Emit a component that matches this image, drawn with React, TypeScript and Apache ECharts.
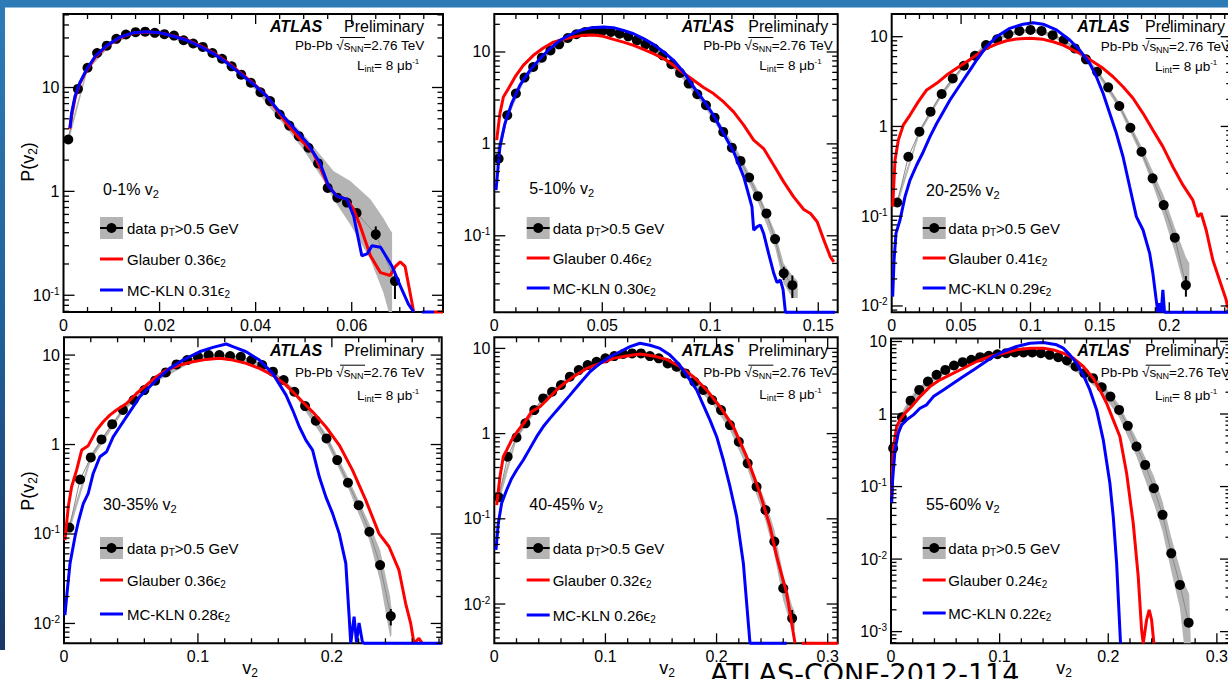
import React, { useEffect, useRef } from 'react';
import * as echarts from 'echarts';

const FONT = '"Liberation Sans", Arial, Helvetica, sans-serif';
const GRAY = '#b4b4b4';
const RED = '#ff0000';
const BLUE = '#0000ff';

// ---------- labels ----------
const CENTRALITY = ['0-1%', '5-10%', '20-25%', '30-35%', '40-45%', '55-60%'];
const GLAUBER_COEF = ['0.36', '0.46', '0.41', '0.36', '0.32', '0.24'];
const KLN_COEF = ['0.31', '0.30', '0.29', '0.28', '0.26', '0.22'];

// ---------- axes ----------
const X_MAX = [0.079, 0.159, 0.245, 0.282, 0.309, 0.313];
const X_INTERVAL = [0.02, 0.05, 0.05, 0.1, 0.1, 0.1];
const X_MINOR = [0.005, 0.01, 0.01, 0.02, 0.02, 0.02];
const Y_MIN = [0.069, 0.0147, 0.0085, 0.006, 0.00346, 0.00069];
const Y_MAX = [51, 25.9, 17.9, 15.8, 13.5, 11];

// ---------- panel 1 : 0-1% ----------
const P1_DATA = [[0.001, 3.16], [0.003, 9.7], [0.005, 15.5], [0.007, 21.5], [0.009, 25.3], [0.011, 29.4], [0.013, 32.4], [0.015, 34.1], [0.017, 34.5], [0.019, 33.6], [0.021, 32.6], [0.023, 31.6], [0.025, 28.5], [0.027, 26.5], [0.029, 24.6], [0.031, 21.5], [0.033, 18.9], [0.035, 16.0], [0.037, 13.3], [0.039, 11.1], [0.041, 9.0], [0.043, 7.4], [0.045, 5.5], [0.047, 4.3], [0.049, 3.4], [0.051, 2.63], [0.053, 1.86], [0.055, 1.08], [0.057, 0.87], [0.059, 0.78], [0.061, 0.62], [0.065, 0.386], [0.069, 0.137]];
const P1_GLAUBER = [[0.0013, 4.0], [0.0017, 5.5], [0.0024, 8.0], [0.0034, 10.9], [0.0048, 14.6], [0.0066, 19.6], [0.009, 25.0], [0.0118, 30.3], [0.0145, 33.4], [0.0173, 34.3], [0.0201, 33.6], [0.0229, 31.3], [0.0257, 28.8], [0.0284, 25.3], [0.0312, 21.6], [0.034, 17.7], [0.0368, 13.9], [0.0396, 10.9], [0.0423, 8.3], [0.0458, 4.92], [0.0472, 4.09], [0.0493, 3.16], [0.052, 2.36], [0.0552, 1.12], [0.0569, 0.9], [0.059, 0.84], [0.0604, 0.67], [0.0618, 0.46], [0.0639, 0.24], [0.066, 0.165], [0.068, 0.155], [0.0691, 0.19], [0.0701, 0.21], [0.0711, 0.19], [0.072, 0.115], [0.0729, 0.069], [0.075, null], [0.0771, 0.069], [0.079, 0.069]];
const P1_KLN = [[0.00135, 4.09], [0.0017, 5.71], [0.0024, 8.25], [0.0034, 11.1], [0.0048, 14.9], [0.0066, 20.0], [0.009, 25.3], [0.0118, 30.6], [0.0145, 33.6], [0.0173, 34.5], [0.0201, 33.6], [0.0229, 31.1], [0.0257, 28.5], [0.0284, 24.9], [0.0312, 21.2], [0.034, 17.3], [0.0368, 13.6], [0.0396, 10.7], [0.0423, 8.25], [0.0451, 5.71], [0.0479, 4.09], [0.0507, 2.94], [0.0534, 1.88], [0.0552, 1.12], [0.0569, 0.9], [0.059, 0.84], [0.0604, 0.58], [0.0621, 0.24], [0.0632, 0.25], [0.0642, 0.3], [0.066, 0.29], [0.0684, 0.19], [0.0701, 0.123], [0.0718, 0.082], [0.0729, 0.069], [0.0737, null], [0.0746, 0.069], [0.0771, 0.069]];
const P1_BAND = [[0.001, 2.9, 3.45], [0.005, 14.6, 16.4], [0.01, 26, 28.8], [0.015, 32.6, 35.6], [0.02, 32.2, 35.2], [0.025, 27.3, 29.8], [0.03, 21.8, 24.2], [0.035, 15.2, 16.9], [0.04, 9.4, 10.7], [0.045, 4.9, 6.1], [0.05, 2.5, 3.5], [0.054, 1.3, 2.1], [0.0562, 0.84, 1.57], [0.0597, 0.48, 1.26], [0.0639, 0.22, 0.84], [0.0666, 0.106, 0.55], [0.0677, 0.069, 0.45], [0.0684, 0.069, 0.4]];
const P1_ERR = [[0.065, 0.34, 0.46], [0.069, 0.092, 0.17]];

// ---------- panel 2 : 5-10% ----------
const P2_DATA = [[0.002, 0.69], [0.006, 2.05], [0.010, 3.53], [0.014, 5.26], [0.018, 6.87], [0.022, 8.67], [0.026, 10.4], [0.030, 12.1], [0.034, 14.2], [0.038, 15.6], [0.042, 16.5], [0.046, 16.9], [0.050, 16.9], [0.054, 16.5], [0.058, 15.8], [0.062, 14.8], [0.066, 13.4], [0.070, 12.1], [0.074, 10.9], [0.078, 9.2], [0.082, 7.35], [0.086, 5.92], [0.090, 4.53], [0.094, 3.47], [0.098, 2.63], [0.102, 1.93], [0.106, 1.35], [0.110, 0.91], [0.114, 0.653], [0.118, 0.431], [0.122, 0.27], [0.126, 0.175], [0.130, 0.092], [0.134, 0.039], [0.138, 0.029]];
const P2_GLAUBER = [[0.0011, 1.1], [0.0026, 2.14], [0.0042, 3.24], [0.0065, 3.99], [0.0096, 5.35], [0.0134, 7.16], [0.0181, 9.2], [0.0227, 11.05], [0.0274, 12.8], [0.032, 13.7], [0.0366, 14.6], [0.0413, 15.2], [0.0459, 15.3], [0.0505, 14.8], [0.0552, 13.7], [0.0598, 12.8], [0.0645, 11.8], [0.0691, 10.7], [0.0737, 9.6], [0.0784, 8.47], [0.083, 7.16], [0.0876, 5.91], [0.0923, 4.92], [0.0969, 4.1], [0.1015, 3.53], [0.1062, 2.86], [0.1108, 2.23], [0.1155, 1.6], [0.1201, 1.1], [0.1247, 0.89], [0.1294, 0.586], [0.134, 0.386], [0.1386, 0.265], [0.1433, 0.193], [0.1464, 0.175], [0.1495, 0.142], [0.1526, 0.0897], [0.1556, 0.059], [0.1572, 0.052]];
const P2_KLN = [[0.0008, 0.313], [0.0026, 0.93], [0.0049, 1.66], [0.008, 2.74], [0.0119, 4.35], [0.0165, 6.32], [0.0212, 8.47], [0.0258, 10.9], [0.0304, 13.4], [0.0351, 15.4], [0.0397, 17.2], [0.0451, 18.4], [0.0505, 18.7], [0.0552, 18.4], [0.0598, 17.2], [0.0645, 15.8], [0.0691, 14.0], [0.0737, 12.1], [0.0784, 10.0], [0.083, 8.11], [0.0876, 6.07], [0.0923, 4.17], [0.0969, 2.98], [0.1015, 2.05], [0.1062, 1.29], [0.1108, 0.82], [0.1155, 0.438], [0.1193, 0.207], [0.1201, 0.115], [0.1216, 0.125], [0.1232, 0.131], [0.1247, 0.106], [0.127, 0.0643], [0.1294, 0.039], [0.1309, 0.031], [0.1325, 0.033], [0.1337, 0.026], [0.1348, 0.0147], [0.1577, 0.0147]];
const P2_BAND = [[0.001, 0.55, 0.85], [0.006, 1.85, 2.25], [0.014, 4.9, 5.6], [0.026, 9.8, 11], [0.038, 14.8, 16.5], [0.05, 16, 17.8], [0.062, 14, 15.6], [0.074, 10.3, 11.5], [0.086, 5.5, 6.4], [0.098, 2.4, 2.9], [0.106, 1.22, 1.5], [0.114, 0.58, 0.74], [0.122, 0.235, 0.31], [0.13, 0.075, 0.11], [0.134, 0.03, 0.05], [0.138, 0.021, 0.037], [0.1405, 0.021, 0.032]];
const P2_ERR = [[0.134, 0.033, 0.046], [0.138, 0.021, 0.037]];

// ---------- panel 3 : 20-25% ----------
const P3_DATA = [[0.004, 0.142], [0.012, 0.46], [0.020, 0.875], [0.028, 1.46], [0.036, 2.3], [0.044, 3.43], [0.052, 4.75], [0.060, 6.14], [0.068, 8.07], [0.076, 9.34], [0.084, 10.7], [0.092, 11.6], [0.100, 11.9], [0.108, 11.6], [0.116, 10.4], [0.124, 9.18], [0.132, 7.41], [0.140, 5.6], [0.148, 4.07], [0.156, 2.73], [0.164, 1.69], [0.172, 0.968], [0.180, 0.523], [0.188, 0.264], [0.196, 0.133], [0.204, 0.0577], [0.212, 0.0171]];
const P3_GLAUBER = [[0.0007, 0.128], [0.0024, 0.423], [0.0048, 0.706], [0.0084, 1.04], [0.0132, 1.34], [0.0192, 1.89], [0.0252, 2.55], [0.0324, 3.02], [0.0396, 3.74], [0.0468, 4.44], [0.054, 5.27], [0.0612, 6.25], [0.0683, 7.41], [0.0755, 8.28], [0.0827, 9.02], [0.0899, 9.42], [0.0995, 9.58], [0.1091, 9.34], [0.1163, 8.79], [0.1235, 8.07], [0.1307, 7.1], [0.1379, 6.25], [0.1451, 5.27], [0.1523, 4.44], [0.1595, 3.58], [0.1667, 2.77], [0.1739, 2.06], [0.1811, 1.4], [0.1882, 0.912], [0.1954, 0.596], [0.2026, 0.356], [0.2098, 0.223], [0.217, 0.151], [0.2206, 0.099], [0.223, 0.108], [0.2266, 0.0702], [0.2314, 0.0325], [0.2362, 0.0195], [0.241, 0.0117], [0.242, 0.0098], [0.245, 0.0088]];
const P3_KLN = [[0.0007, 0.0127], [0.0017, 0.0325], [0.0031, 0.0644], [0.006, 0.0907], [0.0096, 0.165], [0.0132, 0.253], [0.018, 0.372], [0.0228, 0.523], [0.0276, 0.769], [0.0324, 1.08], [0.0372, 1.46], [0.042, 1.97], [0.0468, 2.55], [0.0516, 3.29], [0.0564, 4.25], [0.0612, 5.5], [0.0683, 7.74], [0.0755, 10.0], [0.0851, 12.4], [0.0947, 13.8], [0.1019, 14.3], [0.1091, 13.8], [0.1187, 11.9], [0.1283, 9.18], [0.1355, 7.1], [0.1427, 5.04], [0.1475, 3.58], [0.1523, 2.34], [0.1571, 1.4], [0.1619, 0.838], [0.1667, 0.46], [0.1715, 0.213], [0.1763, 0.099], [0.1811, 0.0702], [0.1859, 0.0385], [0.1882, 0.0231], [0.1906, 0.0117], [0.1918, 0.0085], [0.193, 0.0107], [0.1942, 0.0085], [0.1954, 0.0151], [0.1966, 0.0085], [0.245, 0.0085]];
const P3_BAND = [[0.004, 0.128, 0.158], [0.02, 0.82, 0.93], [0.036, 2.15, 2.45], [0.052, 4.5, 5.0], [0.068, 7.7, 8.5], [0.084, 10.2, 11.2], [0.1, 11.3, 12.5], [0.116, 9.9, 10.9], [0.132, 7.0, 7.9], [0.148, 3.8, 4.4], [0.164, 1.55, 1.85], [0.18, 0.47, 0.6], [0.188, 0.225, 0.32], [0.196, 0.1, 0.17], [0.204, 0.04, 0.075], [0.212, 0.014, 0.035], [0.2145, 0.016, 0.03]];
const P3_ERR = [[0.212, 0.0127, 0.0215]];

// ---------- panel 4 : 30-35% ----------
const P4_DATA = [[0.004, 0.118], [0.012, 0.407], [0.020, 0.718], [0.028, 1.14], [0.036, 1.69], [0.044, 2.43], [0.052, 3.14], [0.060, 4.06], [0.068, 5.17], [0.076, 6.4], [0.084, 7.87], [0.092, 8.79], [0.100, 9.58], [0.108, 10.0], [0.116, 10.0], [0.124, 9.75], [0.132, 9.58], [0.140, 8.79], [0.148, 7.73], [0.156, 6.52], [0.164, 5.25], [0.172, 3.89], [0.180, 2.69], [0.188, 1.85], [0.196, 1.17], [0.204, 0.67], [0.212, 0.374], [0.220, 0.21], [0.228, 0.106], [0.236, 0.0449], [0.244, 0.0121]];
const P4_GLAUBER = [[0.0007, 0.0853], [0.0032, 0.201], [0.0057, 0.337], [0.0094, 0.518], [0.0132, 0.867], [0.0181, 0.972], [0.0243, 1.45], [0.0293, 1.8], [0.0342, 2.13], [0.0392, 2.43], [0.0467, 2.88], [0.0541, 3.72], [0.0615, 4.62], [0.069, 5.72], [0.0764, 6.79], [0.0864, 7.73], [0.0963, 8.42], [0.1062, 8.95], [0.1161, 9.19], [0.1261, 8.79], [0.136, 8.07], [0.1459, 7.1], [0.1558, 5.97], [0.1658, 4.62], [0.1757, 3.27], [0.1856, 2.32], [0.1955, 1.58], [0.2055, 0.987], [0.2154, 0.518], [0.2253, 0.239], [0.2352, 0.101], [0.2427, 0.072], [0.2501, 0.0394], [0.2551, 0.0167], [0.2588, 0.0101], [0.2613, 0.006], [0.265, 0.0068], [0.2675, 0.006]];
const P4_KLN = [[0.0007, 0.0124], [0.002, 0.0199], [0.0045, 0.0469], [0.0082, 0.0931], [0.0107, 0.137], [0.0144, 0.219], [0.0181, 0.284], [0.0218, 0.475], [0.0268, 0.73], [0.0318, 0.83], [0.0367, 1.22], [0.0417, 1.58], [0.0467, 2.05], [0.0516, 2.64], [0.0566, 3.42], [0.064, 4.43], [0.0715, 5.72], [0.0789, 7.1], [0.0888, 8.79], [0.1012, 10.9], [0.1112, 12.2], [0.1211, 13.3], [0.1261, 12.4], [0.136, 10.9], [0.1459, 8.79], [0.1558, 6.24], [0.1658, 3.57], [0.1707, 2.43], [0.1757, 1.58], [0.1806, 1.12], [0.1856, 0.867], [0.1906, 0.436], [0.1955, 0.26], [0.2005, 0.17], [0.2055, 0.101], [0.2104, 0.0469], [0.2129, 0.0119], [0.2141, 0.006], [0.2166, 0.0119], [0.2184, 0.0062], [0.2203, 0.0101], [0.2228, 0.0062], [0.2241, 0.006], [0.282, 0.006]];
const P4_BAND = [[0.004, 0.105, 0.133], [0.02, 0.66, 0.78], [0.044, 2.3, 2.6], [0.068, 4.9, 5.5], [0.1, 9.1, 10.1], [0.124, 9.3, 10.2], [0.148, 7.3, 8.2], [0.172, 3.6, 4.2], [0.196, 1.05, 1.3], [0.212, 0.33, 0.43], [0.228, 0.085, 0.13], [0.236, 0.03, 0.066], [0.2435, 0.007, 0.02], [0.2445, 0.0075, 0.015]];
const P4_ERR = [[0.244, 0.0095, 0.0145]];

// ---------- panel 5 : 40-45% ----------
const P5_DATA = [[0.004, 0.179], [0.012, 0.536], [0.020, 0.903], [0.028, 1.32], [0.036, 1.89], [0.044, 2.59], [0.052, 3.1], [0.060, 3.72], [0.068, 4.66], [0.076, 5.57], [0.084, 6.37], [0.092, 6.98], [0.100, 7.64], [0.108, 8.13], [0.116, 8.59], [0.124, 8.73], [0.132, 8.73], [0.140, 8.13], [0.148, 7.64], [0.156, 6.67], [0.164, 6.1], [0.172, 5.09], [0.180, 4.06], [0.188, 3.25], [0.196, 2.48], [0.204, 1.89], [0.212, 1.26], [0.220, 0.803], [0.228, 0.448], [0.236, 0.238], [0.244, 0.127], [0.252, 0.054], [0.260, 0.0153], [0.268, 0.0068]];
const P5_GLAUBER = [[0.0021, 0.145], [0.0051, 0.312], [0.0081, 0.536], [0.0111, 0.641], [0.0156, 0.841], [0.0216, 1.1], [0.0276, 1.38], [0.0336, 1.81], [0.0411, 2.07], [0.0501, 2.71], [0.0591, 3.55], [0.0711, 4.66], [0.0831, 5.82], [0.0951, 6.67], [0.1071, 7.64], [0.1191, 8.13], [0.1311, 8.59], [0.1431, 8.13], [0.1551, 7.43], [0.1671, 6.1], [0.1791, 4.66], [0.1911, 3.25], [0.2031, 2.07], [0.2151, 1.21], [0.2271, 0.536], [0.2391, 0.199], [0.2481, 0.0809], [0.2541, 0.036], [0.2631, 0.0134], [0.2706, 0.00346], [0.2736, null], [0.2766, 0.00346], [0.309, 0.00346]];
const P5_KLN = [[0.0015, 0.0431], [0.0036, 0.0885], [0.0066, 0.152], [0.0111, 0.218], [0.0156, 0.298], [0.0201, 0.374], [0.0261, 0.49], [0.0321, 0.671], [0.0381, 0.92], [0.0441, 1.21], [0.0501, 1.51], [0.0591, 2.07], [0.0681, 2.83], [0.0771, 3.89], [0.0861, 5.32], [0.0951, 6.67], [0.1041, 7.98], [0.1131, 9.14], [0.1221, 10.5], [0.1311, 11.5], [0.1401, 10.9], [0.1491, 10.0], [0.1581, 8.35], [0.1641, 6.98], [0.1701, 5.57], [0.1761, 4.25], [0.1821, 3.25], [0.1881, 2.16], [0.1941, 1.44], [0.2001, 0.92], [0.2061, 0.49], [0.2121, 0.238], [0.2181, 0.106], [0.2241, 0.0301], [0.2286, 0.0059], [0.2301, 0.00346], [0.2631, 0.00346]];
const P5_BAND = [[0.004, 0.15, 0.21], [0.02, 0.85, 0.96], [0.044, 2.45, 2.75], [0.068, 4.4, 4.95], [0.1, 7.3, 8.0], [0.124, 8.3, 9.2], [0.148, 7.2, 8.1], [0.172, 4.7, 5.4], [0.196, 2.25, 2.7], [0.212, 1.1, 1.4], [0.228, 0.38, 0.52], [0.244, 0.095, 0.16], [0.252, 0.038, 0.075], [0.26, 0.011, 0.022], [0.268, 0.005, 0.0095], [0.2705, 0.005, 0.008]];
const P5_ERR = [[0.268, 0.0055, 0.0085]];

// ---------- panel 6 : 55-60% ----------
const P6_DATA = [[0.002, 0.338], [0.010, 0.904], [0.018, 1.53], [0.026, 2.15], [0.034, 2.8], [0.042, 3.47], [0.050, 4.06], [0.058, 4.67], [0.066, 5.19], [0.074, 5.59], [0.082, 6.08], [0.090, 6.34], [0.098, 6.68], [0.106, 6.9], [0.114, 7.05], [0.122, 7.05], [0.130, 7.05], [0.138, 6.9], [0.146, 6.55], [0.154, 6.08], [0.162, 5.47], [0.170, 4.52], [0.178, 3.66], [0.186, 3.12], [0.194, 2.34], [0.202, 1.74], [0.210, 1.14], [0.218, 0.687], [0.226, 0.357], [0.234, 0.199], [0.242, 0.0948], [0.250, 0.0407], [0.258, 0.012], [0.266, 0.0044], [0.274, 0.00133]];
const P6_GLAUBER = [[0.0006, 0.0728], [0.0021, 0.321], [0.0052, 0.673], [0.0083, 0.832], [0.0129, 1.03], [0.019, 1.27], [0.0267, 1.74], [0.0359, 2.39], [0.0451, 2.96], [0.0543, 3.47], [0.0666, 4.28], [0.0788, 5.3], [0.0911, 6.21], [0.1034, 6.9], [0.1156, 7.67], [0.1279, 8.09], [0.1402, 8.09], [0.1494, 7.67], [0.1586, 6.9], [0.1678, 5.89], [0.177, 4.52], [0.1862, 3.12], [0.1923, 2.15], [0.1985, 1.41], [0.2046, 0.832], [0.2107, 0.49], [0.2169, 0.153], [0.223, 0.0312], [0.2276, 0.00574], [0.2307, 0.00105], [0.2322, 0.00069], [0.2353, 0.00145], [0.2377, 0.00199], [0.2399, 0.00145], [0.242, 0.00069]];
const P6_KLN = [[0.0006, 0.0589], [0.0015, 0.124], [0.0037, 0.321], [0.0067, 0.544], [0.0098, 0.71], [0.0144, 0.832], [0.0206, 0.974], [0.0267, 1.2], [0.0328, 1.34], [0.039, 1.74], [0.0482, 2.15], [0.0574, 2.66], [0.0666, 3.29], [0.0758, 4.06], [0.085, 5.02], [0.0942, 6.21], [0.1034, 7.28], [0.1156, 8.53], [0.1279, 9.48], [0.1402, 9.68], [0.1525, 9.0], [0.1586, 8.09], [0.1647, 6.55], [0.1709, 5.02], [0.177, 3.47], [0.1831, 2.15], [0.1893, 1.14], [0.1954, 0.441], [0.2015, 0.111], [0.2046, 0.0385], [0.2077, 0.00877], [0.2101, 0.00161], [0.2113, 0.00069]];
const P6_BAND = [[0.002, 0.26, 0.5], [0.01, 0.78, 1.05], [0.018, 1.3, 1.75], [0.034, 2.5, 3.05], [0.058, 4.3, 5.0], [0.098, 6.2, 7.1], [0.13, 6.6, 7.45], [0.154, 5.6, 6.45], [0.178, 3.2, 4.0], [0.194, 1.95, 2.7], [0.21, 0.9, 1.35], [0.226, 0.26, 0.46], [0.242, 0.058, 0.14], [0.25, 0.024, 0.062], [0.258, 0.0068, 0.02], [0.266, 0.0021, 0.0075], [0.2696, 0.00069, 0.0048], [0.2745, 0.00069, 0.0033], [0.276, 0.00069, 0.0007]];
const P6_ERR: number[][] = [];

const DATA = [P1_DATA, P2_DATA, P3_DATA, P4_DATA, P5_DATA, P6_DATA];
const GLAUBER = [P1_GLAUBER, P2_GLAUBER, P3_GLAUBER, P4_GLAUBER, P5_GLAUBER, P6_GLAUBER];
const KLN = [P1_KLN, P2_KLN, P3_KLN, P4_KLN, P5_KLN, P6_KLN];
const BAND = [P1_BAND, P2_BAND, P3_BAND, P4_BAND, P5_BAND, P6_BAND];
const ERR = [P1_ERR, P2_ERR, P3_ERR, P4_ERR, P5_ERR, P6_ERR];

// ---------- layout ----------
const GRIDS = [
  { left: 63.5, top: 14, width: 379.5, height: 298 },
  { left: 494.3, top: 14, width: 343.4, height: 298.3 },
  { left: 891.7, top: 14, width: 340, height: 298.3 },
  { left: 64, top: 337.3, width: 377.7, height: 306 },
  { left: 494.3, top: 337.3, width: 343.4, height: 306 },
  { left: 891, top: 338.5, width: 340, height: 304.8 },
];
const TXT = [
  { atlas: [270, 26], prelim: [344, 26], pb: [295, 45], lint: [357, 65], cent: [103, 189], box: [100, 217], legX: 127, legY: [228, 259, 290] },
  { atlas: [681.7, 26], prelim: [748.3, 26], pb: [703.3, 45], lint: [759.3, 65], cent: [529.3, 188], box: [526.7, 217], legX: 552.7, legY: [228, 258, 288] },
  { atlas: [1077.3, 26], prelim: [1145, 26], pb: [1100.7, 46], lint: [1155, 66], cent: [926, 190], box: [922.7, 217], legX: 948.3, legY: [228, 258, 288] },
  { atlas: [270, 350.7], prelim: [344, 350.7], pb: [295, 372.7], lint: [357, 395], cent: [103, 504], box: [100, 537], legX: 127, legY: [548, 580, 614] },
  { atlas: [681.7, 350.7], prelim: [748.3, 350.7], pb: [703.3, 372.7], lint: [759.3, 394], cent: [529.3, 504], box: [526.7, 537], legX: 552.7, legY: [548, 580, 615] },
  { atlas: [1077.3, 350.7], prelim: [1145, 350.7], pb: [1100.7, 372.7], lint: [1155, 395], cent: [926, 504], box: [922.7, 537], legX: 948.3, legY: [548, 580, 613] },
];

function richFor(size: number) {
  return {
    sub: { fontSize: Math.round(size * 0.66), fontFamily: FONT, padding: [Math.round(size * 0.55), 0, 0, 0] },
    sup: { fontSize: Math.round(size * 0.62), fontFamily: FONT, padding: [0, 0, Math.round(size * 0.5), 0] },
  };
}

function T(x: number, y: number, text: string, size: number, opts: any = {}) {
  const align = opts.align || 'left';
  return {
    type: 'text', x, y, z: 50, silent: true, rotation: opts.rotation || 0,
    style: {
      text, fill: '#000', fontSize: size, fontFamily: opts.family || FONT,
      fontWeight: opts.weight || 'normal', fontStyle: opts.fstyle || 'normal',
      align, verticalAlign: 'middle', textAlign: align, textVerticalAlign: 'middle',
      rich: richFor(size),
    },
  };
}

function tickRender(i: number) {
  return (params: any, api: any) => {
    const cs = params.coordSys;
    const L = cs.x, Tp = cs.y, R = cs.x + cs.width, B = cs.y + cs.height;
    const ch: any[] = [];
    const mk = (x1: number, y1: number, x2: number, y2: number) =>
      ch.push({ type: 'line', shape: { x1, y1, x2, y2 }, style: { stroke: '#000', lineWidth: 1.3 } });
    const ratio = Math.round(X_INTERVAL[i] / X_MINOR[i]);
    for (let k = 1; k * X_MINOR[i] <= X_MAX[i] + 1e-9; k++) {
      const px = api.coord([k * X_MINOR[i], Y_MIN[i]])[0];
      const len = k % ratio === 0 ? 10 : 5;
      mk(px, B, px, B - len);
      mk(px, Tp, px, Tp + len);
    }
    const d0 = Math.floor(Math.log10(Y_MIN[i]));
    const d1 = Math.ceil(Math.log10(Y_MAX[i]));
    for (let d = d0; d <= d1; d++) {
      for (let m = 1; m <= 9; m++) {
        const val = m * Math.pow(10, d);
        if (val < Y_MIN[i] || val > Y_MAX[i]) continue;
        const py = api.coord([X_MAX[i] / 2, val])[1];
        const len = m === 1 ? 11 : 5.5;
        mk(L, py, L + len, py);
        mk(R, py, R - len, py);
      }
    }
    return { type: 'group', children: ch };
  };
}

function bandRender(i: number) {
  return (params: any, api: any) => {
    const b = BAND[i];
    const up = b.map((p) => api.coord([p[0], p[2]]));
    const lo = b.slice().reverse().map((p) => api.coord([p[0], p[1]]));
    return { type: 'polygon', shape: { points: up.concat(lo) }, style: { fill: GRAY } };
  };
}

function errRender(params: any, api: any) {
  const a = api.coord([api.value(0), api.value(1)]);
  const b = api.coord([api.value(0), api.value(2)]);
  return { type: 'line', shape: { x1: a[0], y1: a[1], x2: b[0], y2: b[1] }, style: { stroke: '#000', lineWidth: 2 } };
}

function buildOption() {
  const series: any[] = [];
  const graphic: any[] = [];
  for (let i = 0; i < 6; i++) {
    series.push({
      type: 'custom', xAxisIndex: i, yAxisIndex: i, coordinateSystem: 'cartesian2d',
      renderItem: bandRender(i), data: [[X_MAX[i] / 2, 1]], z: 1, silent: true, clip: false,
    });
    series.push({
      type: 'line', xAxisIndex: i, yAxisIndex: i, data: DATA[i], symbol: 'circle', symbolSize: 10,
      itemStyle: { color: '#000' }, lineStyle: { color: '#8a8a8a', width: 1 }, z: 3, silent: true, clip: false,
    });
    series.push({
      type: 'custom', xAxisIndex: i, yAxisIndex: i, coordinateSystem: 'cartesian2d',
      renderItem: errRender, data: ERR[i], encode: { x: 0, y: [1, 2] }, z: 3, silent: true, clip: false,
    });
    series.push({
      type: 'line', xAxisIndex: i, yAxisIndex: i, data: GLAUBER[i], showSymbol: false, symbol: 'none',
      lineStyle: { color: RED, width: 3 }, connectNulls: false, z: 4, silent: true, clip: false,
    });
    series.push({
      type: 'line', xAxisIndex: i, yAxisIndex: i, data: KLN[i], showSymbol: false, symbol: 'none',
      lineStyle: { color: BLUE, width: 3 }, connectNulls: false, z: 5, silent: true, clip: false,
    });
    series.push({
      type: 'custom', xAxisIndex: i, yAxisIndex: i, coordinateSystem: 'cartesian2d',
      renderItem: tickRender(i), data: [[X_MAX[i] / 2, 1]], z: 6, silent: true, clip: false,
    });

    const t = TXT[i];
    graphic.push(T(t.atlas[0], t.atlas[1], 'ATLAS', 16, { weight: 'bold', fstyle: 'italic' }));
    graphic.push(T(t.prelim[0], t.prelim[1], 'Preliminary', 16));
    graphic.push(T(t.pb[0], t.pb[1], 'Pb-Pb \u221As{sub|NN}=2.76 TeV', 13.5));
    graphic.push({ type: 'line', z: 50, silent: true, shape: { x1: t.pb[0] + 45, y1: t.pb[1] - 7.5, x2: t.pb[0] + 70, y2: t.pb[1] - 7.5 }, style: { stroke: '#000', lineWidth: 1 } });
    graphic.push(T(t.lint[0], t.lint[1], 'L{sub|int}= 8 \u03BCb{sup|-1}', 13.5));
    graphic.push(T(t.cent[0], t.cent[1], CENTRALITY[i] + ' v{sub|2}', 16));
    const bx = t.box[0], by = t.box[1];
    graphic.push({ type: 'rect', z: 50, silent: true, shape: { x: bx, y: by, width: 23, height: 22 }, style: { fill: GRAY } });
    graphic.push({ type: 'line', z: 51, silent: true, shape: { x1: bx, y1: by + 11, x2: bx + 23, y2: by + 11 }, style: { stroke: '#000', lineWidth: 2 } });
    graphic.push({ type: 'circle', z: 52, silent: true, shape: { cx: bx + 11.5, cy: by + 11, r: 5 }, style: { fill: '#000' } });
    graphic.push({ type: 'line', z: 51, silent: true, shape: { x1: bx, y1: t.legY[1], x2: bx + 23, y2: t.legY[1] }, style: { stroke: RED, lineWidth: 3 } });
    graphic.push({ type: 'line', z: 51, silent: true, shape: { x1: bx, y1: t.legY[2], x2: bx + 23, y2: t.legY[2] }, style: { stroke: BLUE, lineWidth: 3 } });
    graphic.push(T(t.legX, t.legY[0], 'data p{sub|T}>0.5 GeV', 15));
    graphic.push(T(t.legX, t.legY[1], 'Glauber ' + GLAUBER_COEF[i] + '\u03F5{sub|2}', 15));
    graphic.push(T(t.legX, t.legY[2], 'MC-KLN ' + KLN_COEF[i] + '\u03F5{sub|2}', 15));
  }
  // axis titles
  graphic.push(T(28, 162, 'P(v{sub|2})', 18, { align: 'center', rotation: Math.PI / 2 }));
  graphic.push(T(28, 491, 'P(v{sub|2})', 18, { align: 'center', rotation: Math.PI / 2 }));
  graphic.push(T(250, 668, 'v{sub|2}', 18, { align: 'center' }));
  graphic.push(T(667, 668, 'v{sub|2}', 18, { align: 'center' }));
  graphic.push(T(1064, 668, 'v{sub|2}', 18, { align: 'center' }));
  // slide decoration
  graphic.push({
    type: 'rect', z: 0, silent: true, shape: { x: 0, y: 0, width: 1228, height: 7.5 },
    style: { fill: '#2d7bb6' },
  });
  graphic.push({
    type: 'rect', z: 0, silent: true, shape: { x: 0, y: 0, width: 5, height: 650 },
    style: { fill: { type: 'linear', x: 0, y: 0, x2: 0, y2: 1, colorStops: [{ offset: 0, color: '#2e7cb7' }, { offset: 0.5, color: '#20609a' }, { offset: 1, color: '#1a3766' }] } },
  });
  graphic.push({
    type: 'text', x: 710, y: 673, z: 60, silent: true,
    style: { text: 'ATLAS-CONF-2012-114', fill: '#000', fontSize: 27, fontFamily: '"DejaVu Sans", sans-serif', align: 'left', verticalAlign: 'middle', textAlign: 'left', textVerticalAlign: 'middle' },
  });

  const xFmt = (v: number) => String(+v.toFixed(3));
  const yFmt = (v: number) => {
    const e = Math.round(Math.log10(v));
    if (e === 1) return '10';
    if (e === 0) return '1';
    return '10{sup|' + e + '}';
  };

  return {
    animation: false,
    backgroundColor: '#ffffff',
    textStyle: { fontFamily: FONT },
    grid: GRIDS.map((g) => ({ ...g, show: true, borderColor: '#000', borderWidth: 2, backgroundColor: 'transparent', containLabel: false, outerBoundsMode: 'none' })),
    xAxis: GRIDS.map((_, i) => ({
      type: 'value', gridIndex: i, min: 0, max: X_MAX[i], interval: X_INTERVAL[i],
      axisLine: { show: false }, axisTick: { show: false }, splitLine: { show: false },
      axisLabel: { margin: 5, fontSize: 16, color: '#000', fontFamily: FONT, showMinLabel: true, showMaxLabel: false, formatter: xFmt },
    })),
    yAxis: GRIDS.map((_, i) => ({
      type: 'log', logBase: 10, gridIndex: i, min: Y_MIN[i], max: Y_MAX[i],
      axisLine: { show: false }, axisTick: { show: false }, splitLine: { show: false }, minorTick: { show: false },
      axisLabel: {
        margin: 4, fontSize: 16, color: '#000', fontFamily: FONT, showMinLabel: false, showMaxLabel: false, formatter: yFmt,
        rich: { sup: { fontSize: 10, fontFamily: FONT, color: '#000', padding: [0, 0, 8, 0] } },
      },
    })),
    series,
    graphic,
  };
}

export default function App() {
  const ref = useRef<HTMLDivElement>(null);
  useEffect(() => {
    if (!ref.current) return;
    const chart = echarts.init(ref.current, undefined, { renderer: 'svg' });
    chart.setOption(buildOption() as any);
    return () => chart.dispose();
  }, []);
  return <div ref={ref} style={{ position: 'absolute', left: 0, top: 0, width: 1228, height: 679, background: '#fff' }} />;
}
